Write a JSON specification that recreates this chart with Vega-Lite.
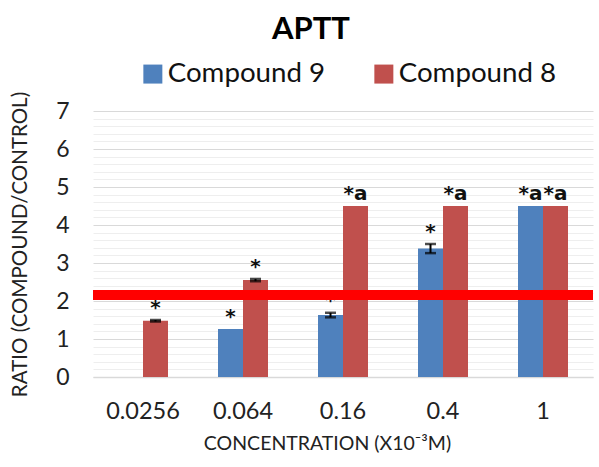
{
  "$schema": "https://vega.github.io/schema/vega-lite/v6.json",
  "width": 500,
  "height": 266,
  "autosize": {"type": "none"},
  "padding": {"left": 93, "top": 111, "right": 6, "bottom": 90},
  "background": "white",
  "config": {
    "font": "Lato",
    "view": {"stroke": null}
  },
  "title": {
    "text": "APTT",
    "fontSize": 31,
    "fontWeight": "bold",
    "font": "Lato",
    "color": "#000000",
    "anchor": "middle",
    "dx": -32,
    "offset": 14
  },
  "datasets": {
    "bars": [
      {"conc": "0.0256", "compound": "Compound 9", "value": 0, "lo": 0, "hi": 0, "label": ""},
      {"conc": "0.0256", "compound": "Compound 8", "value": 1.48, "lo": 1.46, "hi": 1.5, "label": "*"},
      {"conc": "0.064", "compound": "Compound 9", "value": 1.26, "lo": 1.26, "hi": 1.26, "label": "*"},
      {"conc": "0.064", "compound": "Compound 8", "value": 2.55, "lo": 2.52, "hi": 2.58, "label": "*"},
      {"conc": "0.16", "compound": "Compound 9", "value": 1.63, "lo": 1.57, "hi": 1.69, "label": "*"},
      {"conc": "0.16", "compound": "Compound 8", "value": 4.5, "lo": 4.5, "hi": 4.5, "label": "*a"},
      {"conc": "0.4", "compound": "Compound 9", "value": 3.38, "lo": 3.26, "hi": 3.5, "label": "*"},
      {"conc": "0.4", "compound": "Compound 8", "value": 4.5, "lo": 4.5, "hi": 4.5, "label": "*a"},
      {"conc": "1", "compound": "Compound 9", "value": 4.5, "lo": 4.5, "hi": 4.5, "label": "*a"},
      {"conc": "1", "compound": "Compound 8", "value": 4.5, "lo": 4.5, "hi": 4.5, "label": "*a"}
    ],
    "threshold": [{"ratio": 2.16}]
  },
  "resolve": {"axis": {"y": "independent"}},
  "layer": [
    {
      "layer": [
        {
          "data": {"name": "bars"},
          "mark": {"type": "bar"},
          "encoding": {
            "x": {
              "field": "conc", "type": "nominal", "sort": null,
              "scale": {"paddingInner": 0.5, "paddingOuter": 0.25},
              "axis": {
                "title": "CONCENTRATION (X10⁻³M)",
                "titleFontSize": 19.5, "titleFontWeight": "normal", "titleColor": "#222222",
                "titlePadding": 12, "titleX": 234,
                "labelFontSize": 23.5, "labelColor": "#222222", "labelAngle": 0, "labelPadding": 22,
                "ticks": false, "domain": true, "domainColor": "#d9d9d9", "domainWidth": 1.5
              }
            },
            "xOffset": {"field": "compound", "type": "nominal", "sort": ["Compound 9", "Compound 8"]},
            "y": {
              "field": "value", "type": "quantitative",
              "scale": {"domain": [0, 7], "nice": false},
              "axis": {
                "title": "RATIO (COMPOUND/CONTROL)",
                "titleFontSize": 20.5, "titleFontWeight": "normal", "titleColor": "#222222",
                "titlePadding": 25,
                "values": [0, 1, 2, 3, 4, 5, 6, 7],
                "tickCount": 20,
                "format": "d",
                "labelOverlap": false,
                "labelFontSize": 23, "labelColor": "#222222", "labelPadding": 24,
                "ticks": false, "domain": false,
                "grid": true, "gridColor": "#d9d9d9", "gridWidth": 1.2
              }
            },
            "color": {
              "field": "compound", "type": "nominal",
              "scale": {"domain": ["Compound 9", "Compound 8"], "range": ["#4F81BD", "#C0504D"]},
              "legend": {
                "title": null, "orient": "none", "direction": "horizontal",
                "legendX": 46, "legendY": -51,
                "symbolType": "square", "symbolSize": 361, "symbolStrokeWidth": 0,
                "labelFontSize": 27.7, "labelColor": "#111111", "labelOffset": 1,
                "columnPadding": 44
              }
            }
          }
        },
        {
          "data": {"name": "bars"},
          "transform": [{"filter": "datum.hi > datum.lo"}],
          "mark": {"type": "rule", "color": "#000000", "strokeWidth": 2},
          "encoding": {
            "x": {"field": "conc", "type": "nominal", "sort": null},
            "xOffset": {"field": "compound", "type": "nominal", "sort": ["Compound 9", "Compound 8"]},
            "y": {"field": "lo", "type": "quantitative"},
            "y2": {"field": "hi"}
          }
        },
        {
          "data": {"name": "bars"},
          "transform": [{"filter": "datum.hi > datum.lo"}],
          "mark": {"type": "tick", "color": "#000000", "thickness": 2.5, "size": 11},
          "encoding": {
            "x": {"field": "conc", "type": "nominal", "sort": null},
            "xOffset": {"field": "compound", "type": "nominal", "sort": ["Compound 9", "Compound 8"]},
            "y": {"field": "lo", "type": "quantitative"}
          }
        },
        {
          "data": {"name": "bars"},
          "transform": [{"filter": "datum.hi > datum.lo"}],
          "mark": {"type": "tick", "color": "#000000", "thickness": 2.5, "size": 11},
          "encoding": {
            "x": {"field": "conc", "type": "nominal", "sort": null},
            "xOffset": {"field": "compound", "type": "nominal", "sort": ["Compound 9", "Compound 8"]},
            "y": {"field": "hi", "type": "quantitative"}
          }
        },
        {
          "data": {"name": "bars"},
          "mark": {"type": "text", "baseline": "bottom", "dy": -2, "fontSize": 20, "fontWeight": "bold", "font": "DejaVu Sans", "color": "#111111"},
          "encoding": {
            "x": {"field": "conc", "type": "nominal", "sort": null},
            "xOffset": {"field": "compound", "type": "nominal", "sort": ["Compound 9", "Compound 8"]},
            "y": {"field": "hi", "type": "quantitative"},
            "text": {"field": "label"}
          }
        }
      ]
    },
    {
      "data": {"name": "threshold"},
      "mark": {"type": "rule", "color": "#FF0000", "strokeWidth": 10},
      "encoding": {
        "y": {
          "field": "ratio", "type": "quantitative",
          "axis": {
            "orient": "right", "title": null, "labels": false, "ticks": false, "domain": false,
            "tickCount": 60,
            "labelOverlap": false,
            "grid": true, "gridColor": "#eeeeee", "gridWidth": 1,
            "values": [0.2,0.4,0.6,0.8,1.2,1.4,1.6,1.8,2.2,2.4,2.6,2.8,3.2,3.4,3.6,3.8,4.2,4.4,4.6,4.8,5.2,5.4,5.6,5.8,6.2,6.4,6.6,6.8]
          }
        }
      }
    }
  ]
}
